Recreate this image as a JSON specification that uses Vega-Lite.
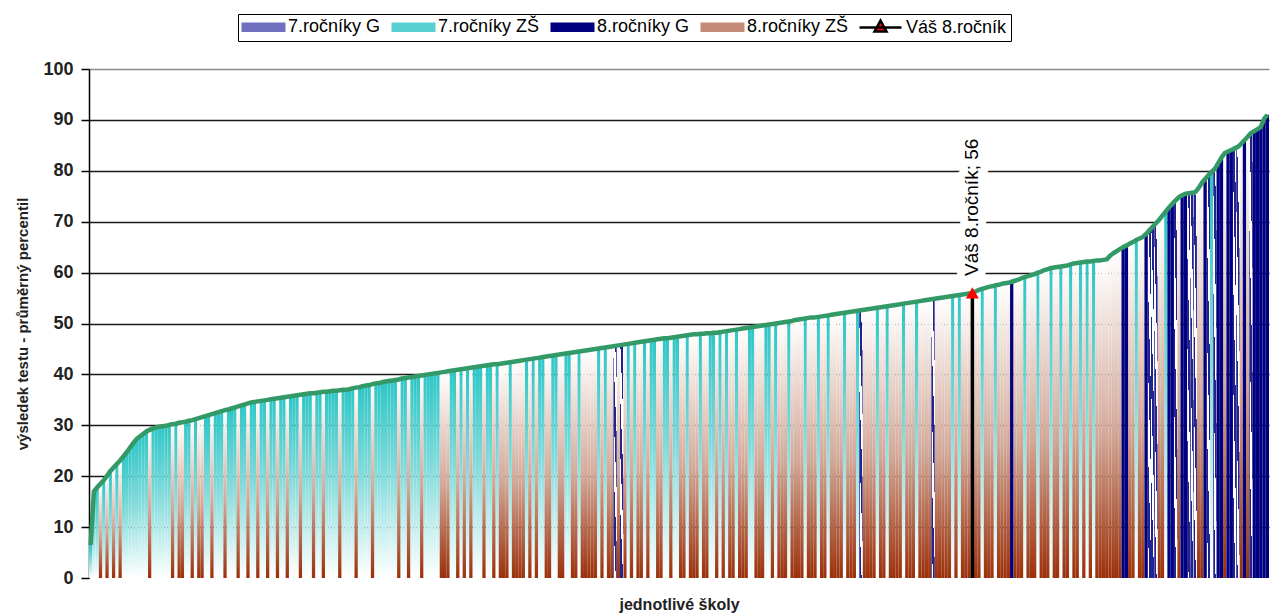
{
"$schema": "https://vega.github.io/schema/vega-lite/v6.json",
"width": 1180,
"height": 509,
"autosize": {"type": "none"},
"padding": {"left": 89, "top": 69, "right": 1, "bottom": 36},
"background": "#ffffff",
"datasets": {"schools": [
{"s":1,"v":6.5,"k":"Z7"},{"s":2,"v":17.0,"k":"Z7"},{"s":3,"v":17.8,"k":"Z7"},{"s":4,"v":18.5,"k":"Z8"},{"s":5,"v":19.2,"k":"Z7"},{"s":6,"v":20.1,"k":"Z8"},{"s":7,"v":21.0,"k":"Z7"},{"s":8,"v":21.7,"k":"Z8"},{"s":9,"v":22.4,"k":"Z7"},{"s":10,"v":23.1,"k":"Z8"},
{"s":11,"v":23.9,"k":"Z7"},{"s":12,"v":24.7,"k":"Z7"},{"s":13,"v":25.6,"k":"Z7"},{"s":14,"v":26.5,"k":"Z7"},{"s":15,"v":27.3,"k":"Z7"},{"s":16,"v":27.8,"k":"Z7"},{"s":17,"v":28.3,"k":"Z7"},{"s":18,"v":28.8,"k":"Z7"},{"s":19,"v":29.1,"k":"Z8"},{"s":20,"v":29.4,"k":"Z7"},
{"s":21,"v":29.6,"k":"Z7"},{"s":22,"v":29.7,"k":"Z7"},{"s":23,"v":29.8,"k":"Z7"},{"s":24,"v":29.9,"k":"Z7"},{"s":25,"v":30.1,"k":"Z7"},{"s":26,"v":30.2,"k":"Z8"},{"s":27,"v":30.3,"k":"Z7"},{"s":28,"v":30.5,"k":"Z8"},{"s":29,"v":30.6,"k":"Z8"},{"s":30,"v":30.7,"k":"Z7"},
{"s":31,"v":30.9,"k":"Z7"},{"s":32,"v":31.0,"k":"Z8"},{"s":33,"v":31.2,"k":"Z7"},{"s":34,"v":31.4,"k":"Z8"},{"s":35,"v":31.6,"k":"Z8"},{"s":36,"v":31.8,"k":"Z7"},{"s":37,"v":32.0,"k":"Z7"},{"s":38,"v":32.2,"k":"Z8"},{"s":39,"v":32.4,"k":"Z7"},{"s":40,"v":32.6,"k":"Z7"},
{"s":41,"v":32.8,"k":"Z7"},{"s":42,"v":33.0,"k":"Z8"},{"s":43,"v":33.1,"k":"Z7"},{"s":44,"v":33.3,"k":"Z7"},{"s":45,"v":33.5,"k":"Z7"},{"s":46,"v":33.7,"k":"Z8"},{"s":47,"v":33.9,"k":"Z7"},{"s":48,"v":34.1,"k":"Z7"},{"s":49,"v":34.3,"k":"Z8"},{"s":50,"v":34.5,"k":"Z7"},
{"s":51,"v":34.6,"k":"Z7"},{"s":52,"v":34.7,"k":"Z8"},{"s":53,"v":34.8,"k":"Z7"},{"s":54,"v":34.9,"k":"Z7"},{"s":55,"v":35.0,"k":"Z8"},{"s":56,"v":35.1,"k":"Z7"},{"s":57,"v":35.2,"k":"Z7"},{"s":58,"v":35.3,"k":"Z8"},{"s":59,"v":35.4,"k":"Z7"},{"s":60,"v":35.5,"k":"Z7"},
{"s":61,"v":35.6,"k":"Z8"},{"s":62,"v":35.7,"k":"Z7"},{"s":63,"v":35.8,"k":"Z7"},{"s":64,"v":35.9,"k":"Z7"},{"s":65,"v":36.0,"k":"Z8"},{"s":66,"v":36.1,"k":"Z7"},{"s":67,"v":36.2,"k":"Z7"},{"s":68,"v":36.3,"k":"Z7"},{"s":69,"v":36.3,"k":"Z8"},{"s":70,"v":36.4,"k":"Z7"},
{"s":71,"v":36.5,"k":"Z7"},{"s":72,"v":36.6,"k":"Z8"},{"s":73,"v":36.6,"k":"Z7"},{"s":74,"v":36.7,"k":"Z7"},{"s":75,"v":36.8,"k":"Z7"},{"s":76,"v":36.8,"k":"Z7"},{"s":77,"v":36.9,"k":"Z8"},{"s":78,"v":37.0,"k":"Z7"},{"s":79,"v":37.0,"k":"Z7"},{"s":80,"v":37.1,"k":"Z7"},
{"s":81,"v":37.3,"k":"Z7"},{"s":82,"v":37.4,"k":"Z8"},{"s":83,"v":37.5,"k":"Z7"},{"s":84,"v":37.7,"k":"Z7"},{"s":85,"v":37.8,"k":"Z7"},{"s":86,"v":37.9,"k":"Z7"},{"s":87,"v":38.1,"k":"Z8"},{"s":88,"v":38.2,"k":"Z7"},{"s":89,"v":38.3,"k":"Z7"},{"s":90,"v":38.5,"k":"Z7"},
{"s":91,"v":38.6,"k":"Z7"},{"s":92,"v":38.7,"k":"Z7"},{"s":93,"v":38.8,"k":"Z7"},{"s":94,"v":38.9,"k":"Z7"},{"s":95,"v":39.0,"k":"Z8"},{"s":96,"v":39.2,"k":"Z7"},{"s":97,"v":39.3,"k":"Z7"},{"s":98,"v":39.4,"k":"Z8"},{"s":99,"v":39.5,"k":"Z7"},{"s":100,"v":39.6,"k":"Z7"},
{"s":101,"v":39.7,"k":"Z7"},{"s":102,"v":39.8,"k":"Z8"},{"s":103,"v":39.9,"k":"Z7"},{"s":104,"v":40.0,"k":"Z7"},{"s":105,"v":40.1,"k":"Z7"},{"s":106,"v":40.2,"k":"Z7"},{"s":107,"v":40.3,"k":"Z7"},{"s":108,"v":40.4,"k":"Z8"},{"s":109,"v":40.5,"k":"Z8"},{"s":110,"v":40.6,"k":"Z8"},
{"s":111,"v":40.7,"k":"Z7"},{"s":112,"v":40.8,"k":"Z7"},{"s":113,"v":40.9,"k":"Z8"},{"s":114,"v":41.0,"k":"Z7"},{"s":115,"v":41.1,"k":"Z8"},{"s":116,"v":41.2,"k":"Z7"},{"s":117,"v":41.3,"k":"Z8"},{"s":118,"v":41.4,"k":"Z7"},{"s":119,"v":41.5,"k":"Z7"},{"s":120,"v":41.6,"k":"Z7"},
{"s":121,"v":41.7,"k":"Z8"},{"s":122,"v":41.8,"k":"Z7"},{"s":123,"v":41.9,"k":"Z7"},{"s":124,"v":42.0,"k":"Z8"},{"s":125,"v":42.0,"k":"Z7"},{"s":126,"v":42.1,"k":"Z8"},{"s":127,"v":42.2,"k":"Z8"},{"s":128,"v":42.3,"k":"Z8"},{"s":129,"v":42.4,"k":"Z7"},{"s":130,"v":42.5,"k":"Z8"},
{"s":131,"v":42.6,"k":"Z8"},{"s":132,"v":42.7,"k":"Z8"},{"s":133,"v":42.8,"k":"Z8"},{"s":134,"v":42.9,"k":"Z7"},{"s":135,"v":43.0,"k":"Z8"},{"s":136,"v":43.1,"k":"Z7"},{"s":137,"v":43.2,"k":"Z8"},{"s":138,"v":43.3,"k":"Z7"},{"s":139,"v":43.4,"k":"Z7"},{"s":140,"v":43.5,"k":"Z8"},
{"s":141,"v":43.6,"k":"Z8"},{"s":142,"v":43.7,"k":"Z7"},{"s":143,"v":43.8,"k":"Z7"},{"s":144,"v":43.9,"k":"Z8"},{"s":145,"v":44.0,"k":"Z8"},{"s":146,"v":44.1,"k":"Z7"},{"s":147,"v":44.2,"k":"Z7"},{"s":148,"v":44.3,"k":"Z8"},{"s":149,"v":44.4,"k":"Z8"},{"s":150,"v":44.5,"k":"Z7"},
{"s":151,"v":44.6,"k":"Z8"},{"s":152,"v":44.7,"k":"Z8"},{"s":153,"v":44.8,"k":"Z8"},{"s":154,"v":44.9,"k":"Z8"},{"s":155,"v":45.0,"k":"Z8"},{"s":156,"v":45.1,"k":"Z7"},{"s":157,"v":45.2,"k":"Z8"},{"s":158,"v":45.3,"k":"Z7"},{"s":159,"v":45.4,"k":"Z8"},{"s":160,"v":45.5,"k":"Z8"},
{"s":161,"v":45.6,"k":"G7"},{"s":162,"v":45.7,"k":"Z8"},{"s":163,"v":45.8,"k":"G7"},{"s":164,"v":45.9,"k":"Z8"},{"s":165,"v":46.0,"k":"Z7"},{"s":166,"v":46.1,"k":"Z8"},{"s":167,"v":46.2,"k":"Z7"},{"s":168,"v":46.3,"k":"Z8"},{"s":169,"v":46.4,"k":"Z8"},{"s":170,"v":46.5,"k":"Z7"},
{"s":171,"v":46.6,"k":"Z8"},{"s":172,"v":46.7,"k":"Z7"},{"s":173,"v":46.8,"k":"Z7"},{"s":174,"v":46.9,"k":"Z8"},{"s":175,"v":47.0,"k":"Z8"},{"s":176,"v":47.1,"k":"Z7"},{"s":177,"v":47.1,"k":"Z7"},{"s":178,"v":47.2,"k":"Z8"},{"s":179,"v":47.3,"k":"Z7"},{"s":180,"v":47.4,"k":"Z7"},
{"s":181,"v":47.5,"k":"Z8"},{"s":182,"v":47.6,"k":"Z8"},{"s":183,"v":47.7,"k":"Z7"},{"s":184,"v":47.8,"k":"Z8"},{"s":185,"v":47.9,"k":"Z8"},{"s":186,"v":47.9,"k":"Z8"},{"s":187,"v":48.0,"k":"Z7"},{"s":188,"v":48.0,"k":"Z8"},{"s":189,"v":48.1,"k":"Z8"},{"s":190,"v":48.1,"k":"Z7"},
{"s":191,"v":48.2,"k":"Z7"},{"s":192,"v":48.2,"k":"Z8"},{"s":193,"v":48.3,"k":"Z7"},{"s":194,"v":48.4,"k":"Z8"},{"s":195,"v":48.5,"k":"Z7"},{"s":196,"v":48.6,"k":"Z8"},{"s":197,"v":48.7,"k":"Z8"},{"s":198,"v":48.8,"k":"Z7"},{"s":199,"v":48.9,"k":"Z8"},{"s":200,"v":49.0,"k":"Z8"},
{"s":201,"v":49.1,"k":"Z8"},{"s":202,"v":49.2,"k":"Z7"},{"s":203,"v":49.3,"k":"Z7"},{"s":204,"v":49.4,"k":"Z8"},{"s":205,"v":49.5,"k":"Z8"},{"s":206,"v":49.6,"k":"Z8"},{"s":207,"v":49.7,"k":"Z7"},{"s":208,"v":49.8,"k":"Z7"},{"s":209,"v":49.9,"k":"Z8"},{"s":210,"v":50.0,"k":"Z7"},
{"s":211,"v":50.1,"k":"Z8"},{"s":212,"v":50.2,"k":"Z8"},{"s":213,"v":50.3,"k":"Z8"},{"s":214,"v":50.4,"k":"Z7"},{"s":215,"v":50.5,"k":"Z8"},{"s":216,"v":50.7,"k":"Z8"},{"s":217,"v":50.8,"k":"Z8"},{"s":218,"v":50.9,"k":"Z8"},{"s":219,"v":51.0,"k":"Z7"},{"s":220,"v":51.1,"k":"Z8"},
{"s":221,"v":51.2,"k":"Z8"},{"s":222,"v":51.2,"k":"Z8"},{"s":223,"v":51.3,"k":"Z7"},{"s":224,"v":51.4,"k":"Z8"},{"s":225,"v":51.5,"k":"Z8"},{"s":226,"v":51.6,"k":"Z7"},{"s":227,"v":51.7,"k":"Z8"},{"s":228,"v":51.8,"k":"Z8"},{"s":229,"v":51.9,"k":"Z8"},{"s":230,"v":52.0,"k":"Z8"},
{"s":231,"v":52.1,"k":"Z7"},{"s":232,"v":52.2,"k":"Z8"},{"s":233,"v":52.3,"k":"Z8"},{"s":234,"v":52.4,"k":"Z8"},{"s":235,"v":52.5,"k":"Z7"},{"s":236,"v":52.6,"k":"G7"},{"s":237,"v":52.7,"k":"Z8"},{"s":238,"v":52.8,"k":"Z8"},{"s":239,"v":52.9,"k":"Z8"},{"s":240,"v":53.0,"k":"Z8"},
{"s":241,"v":53.1,"k":"Z7"},{"s":242,"v":53.2,"k":"Z8"},{"s":243,"v":53.3,"k":"Z8"},{"s":244,"v":53.4,"k":"Z7"},{"s":245,"v":53.5,"k":"Z8"},{"s":246,"v":53.6,"k":"Z8"},{"s":247,"v":53.7,"k":"Z8"},{"s":248,"v":53.8,"k":"Z8"},{"s":249,"v":53.9,"k":"Z7"},{"s":250,"v":54.0,"k":"Z8"},
{"s":251,"v":54.1,"k":"Z8"},{"s":252,"v":54.2,"k":"Z8"},{"s":253,"v":54.3,"k":"Z7"},{"s":254,"v":54.4,"k":"Z8"},{"s":255,"v":54.5,"k":"Z8"},{"s":256,"v":54.6,"k":"Z8"},{"s":257,"v":54.7,"k":"Z8"},{"s":258,"v":54.8,"k":"G7"},{"s":259,"v":54.9,"k":"Z8"},{"s":260,"v":55.0,"k":"Z8"},
{"s":261,"v":55.1,"k":"Z8"},{"s":262,"v":55.2,"k":"Z8"},{"s":263,"v":55.3,"k":"Z8"},{"s":264,"v":55.4,"k":"Z7"},{"s":265,"v":55.5,"k":"Z8"},{"s":266,"v":55.6,"k":"Z7"},{"s":267,"v":55.7,"k":"Z8"},{"s":268,"v":55.8,"k":"Z8"},{"s":269,"v":55.9,"k":"Z8"},{"s":270,"v":56,"k":"V","t":"Váš 8.ročník; 56"},
{"s":271,"v":56.3,"k":"Z8"},{"s":272,"v":56.6,"k":"Z8"},{"s":273,"v":56.8,"k":"Z7"},{"s":274,"v":57.0,"k":"Z8"},{"s":275,"v":57.2,"k":"Z8"},{"s":276,"v":57.3,"k":"Z8"},{"s":277,"v":57.5,"k":"Z7"},{"s":278,"v":57.6,"k":"Z8"},{"s":279,"v":57.8,"k":"Z8"},{"s":280,"v":57.9,"k":"Z8"},
{"s":281,"v":58.0,"k":"Z8"},{"s":282,"v":58.2,"k":"G8"},{"s":283,"v":58.4,"k":"Z8"},{"s":284,"v":58.6,"k":"Z8"},{"s":285,"v":58.9,"k":"Z8"},{"s":286,"v":59.1,"k":"Z7"},{"s":287,"v":59.3,"k":"Z8"},{"s":288,"v":59.5,"k":"Z8"},{"s":289,"v":59.7,"k":"Z8"},{"s":290,"v":60.0,"k":"Z7"},
{"s":291,"v":60.2,"k":"Z8"},{"s":292,"v":60.5,"k":"Z8"},{"s":293,"v":60.7,"k":"Z8"},{"s":294,"v":60.9,"k":"Z7"},{"s":295,"v":61.0,"k":"Z8"},{"s":296,"v":61.1,"k":"Z8"},{"s":297,"v":61.2,"k":"Z7"},{"s":298,"v":61.3,"k":"Z8"},{"s":299,"v":61.4,"k":"Z8"},{"s":300,"v":61.6,"k":"Z7"},
{"s":301,"v":61.8,"k":"Z8"},{"s":302,"v":61.9,"k":"Z8"},{"s":303,"v":62.0,"k":"Z7"},{"s":304,"v":62.1,"k":"Z8"},{"s":305,"v":62.2,"k":"Z7"},{"s":306,"v":62.2,"k":"Z8"},{"s":307,"v":62.3,"k":"Z7"},{"s":308,"v":62.4,"k":"Z8"},{"s":309,"v":62.4,"k":"Z8"},{"s":310,"v":62.5,"k":"Z8"},
{"s":311,"v":62.6,"k":"Z8"},{"s":312,"v":63.3,"k":"Z8"},{"s":313,"v":63.8,"k":"Z8"},{"s":314,"v":64.2,"k":"Z8"},{"s":315,"v":64.6,"k":"Z8"},{"s":316,"v":65.0,"k":"G8"},{"s":317,"v":65.3,"k":"G8"},{"s":318,"v":65.7,"k":"Z8"},{"s":319,"v":66.0,"k":"Z8"},{"s":320,"v":66.4,"k":"Z7"},
{"s":321,"v":66.7,"k":"Z8"},{"s":322,"v":67.0,"k":"Z8"},{"s":323,"v":67.6,"k":"G8"},{"s":324,"v":68.3,"k":"G7"},{"s":325,"v":69.0,"k":"G7"},{"s":326,"v":69.7,"k":"G7"},{"s":327,"v":70.4,"k":"Z8"},{"s":328,"v":71.2,"k":"Z8"},{"s":329,"v":72.0,"k":"Z7"},{"s":330,"v":72.8,"k":"G8"},
{"s":331,"v":73.5,"k":"G8"},{"s":332,"v":74.2,"k":"G7"},{"s":333,"v":74.8,"k":"Z8"},{"s":334,"v":75.2,"k":"G8"},{"s":335,"v":75.5,"k":"G8"},{"s":336,"v":75.6,"k":"G7"},{"s":337,"v":75.7,"k":"G7"},{"s":338,"v":75.8,"k":"G7"},{"s":339,"v":76.6,"k":"Z8"},{"s":340,"v":77.6,"k":"Z8"},
{"s":341,"v":78.4,"k":"G8"},{"s":342,"v":79.1,"k":"G7"},{"s":343,"v":79.8,"k":"Z7"},{"s":344,"v":80.4,"k":"G7"},{"s":345,"v":81.5,"k":"G8"},{"s":346,"v":82.6,"k":"G8"},{"s":347,"v":83.5,"k":"Z8"},{"s":348,"v":83.8,"k":"G8"},{"s":349,"v":84.1,"k":"G8"},{"s":350,"v":84.4,"k":"G7"},
{"s":351,"v":84.7,"k":"G7"},{"s":352,"v":85.3,"k":"Z8"},{"s":353,"v":86.0,"k":"G8"},{"s":354,"v":86.7,"k":"Z8"},{"s":355,"v":87.4,"k":"G7"},{"s":356,"v":87.8,"k":"G8"},{"s":357,"v":88.2,"k":"G8"},{"s":358,"v":88.6,"k":"G8"},{"s":359,"v":90.2,"k":"G8"},{"s":360,"v":91.0,"k":"G8"}
]},
"data": {"name": "schools"},
"encoding": {
  "x": {"field": "s", "type": "ordinal", "sort": "ascending",
        "scale": {"paddingInner": 0, "paddingOuter": 0},
        "axis": {"title": "jednotlivé školy", "labels": false, "ticks": false, "domain": false, "grid": false,
                 "titleFont": "Liberation Sans", "titleFontSize": 16, "titleFontWeight": "bold", "titleColor": "#222222", "titlePadding": 18}},
  "y": {"field": "v", "type": "quantitative",
        "scale": {"domain": [0, 100], "nice": false, "zero": true},
        "axis": {"title": "výsledek testu - průměrný percentil", "values": [0,10,20,30,40,50,60,70,80,90,100],
                 "titleFont": "Liberation Sans", "titleFontSize": 15, "titleFontWeight": "bold", "titleColor": "#222222", "titlePadding": 12,
                 "labelFont": "Liberation Sans", "labelFontSize": 18, "labelFontWeight": "bold", "labelColor": "#222222", "labelPadding": 8,
                 "tickSize": 8, "tickColor": "#000000", "tickWidth": 1.5, "domainColor": "#000000", "domainWidth": 1.5,
                 "gridColor": {"condition": [{"test": "datum.value == 0", "value": "transparent"}, {"test": "datum.value == 100", "value": "#8a8a8a"}], "value": "#1a1a1a"},
                 "gridWidth": 1.5}}
},
"layer": [
  {
    "transform": [{"filter": "datum.k == 'Z7'"}],
    "mark": {"type": "bar", "fill": {"gradient":"linear","x1":0,"y1":0,"x2":0,"y2":1,"stops":[{"offset":0,"color":"#2ec6c6"},{"offset":0.45,"color":"#80dada"},{"offset":1,"color":"#ffffff"}]}},
    "encoding": {}
  },
  {
    "transform": [{"filter": "datum.k == 'Z8'"}],
    "mark": {"type": "bar", "fill": {"gradient":"linear","x1":0,"y1":0,"x2":0,"y2":1,"stops":[{"offset":0,"color":"#ffffff"},{"offset":0.55,"color":"#d2a898"},{"offset":1,"color":"#9b300a"}]}},
    "encoding": {}
  },
  {
    "transform": [{"filter": "datum.k == 'G7'"}],
    "mark": {"type": "bar", "fill": {"gradient":"linear","x1":0,"y1":0.2,"x2":1,"y2":0,"stops":[
              {"offset":0,"color":"#23238f"},{"offset":0.045,"color":"#23238f"},{"offset":0.045,"color":"#ffffff"},{"offset":0.091,"color":"#ffffff"},
              {"offset":0.091,"color":"#23238f"},{"offset":0.136,"color":"#23238f"},{"offset":0.136,"color":"#ffffff"},{"offset":0.182,"color":"#ffffff"},
              {"offset":0.182,"color":"#23238f"},{"offset":0.227,"color":"#23238f"},{"offset":0.227,"color":"#ffffff"},{"offset":0.273,"color":"#ffffff"},
              {"offset":0.273,"color":"#23238f"},{"offset":0.318,"color":"#23238f"},{"offset":0.318,"color":"#ffffff"},{"offset":0.364,"color":"#ffffff"},
              {"offset":0.364,"color":"#23238f"},{"offset":0.409,"color":"#23238f"},{"offset":0.409,"color":"#ffffff"},{"offset":0.455,"color":"#ffffff"},
              {"offset":0.455,"color":"#23238f"},{"offset":0.5,"color":"#23238f"},{"offset":0.5,"color":"#ffffff"},{"offset":0.545,"color":"#ffffff"},
              {"offset":0.545,"color":"#23238f"},{"offset":0.591,"color":"#23238f"},{"offset":0.591,"color":"#ffffff"},{"offset":0.636,"color":"#ffffff"},
              {"offset":0.636,"color":"#23238f"},{"offset":0.682,"color":"#23238f"},{"offset":0.682,"color":"#ffffff"},{"offset":0.727,"color":"#ffffff"},
              {"offset":0.727,"color":"#23238f"},{"offset":0.773,"color":"#23238f"},{"offset":0.773,"color":"#ffffff"},{"offset":0.818,"color":"#ffffff"},
              {"offset":0.818,"color":"#23238f"},{"offset":0.864,"color":"#23238f"},{"offset":0.864,"color":"#ffffff"},{"offset":0.909,"color":"#ffffff"},
              {"offset":0.909,"color":"#23238f"},{"offset":0.955,"color":"#23238f"},{"offset":0.955,"color":"#ffffff"},{"offset":1,"color":"#ffffff"}]}},
    "encoding": {}
  },
  {
    "transform": [{"filter": "datum.k == 'G8'"}],
    "mark": {"type": "bar", "fill": "#000080"},
    "encoding": {}
  },
  {
    "transform": [{"filter": "datum.k == 'none'"}],
    "mark": {"type": "point", "filled": true, "opacity": 1},
    "encoding": {
      "fill": {"field": "k", "type": "nominal",
        "scale": {"domain": ["G7", "Z7", "G8", "Z8", "V"], "range": ["#7070c0", "#58d0d0", "#000080", "#c48c78", "#ff0000"]},
        "legend": {"title": null,
          "labelExpr": "datum.label == 'G7' ? '7.ročníky G' : datum.label == 'Z7' ? '7.ročníky ZŠ' : datum.label == 'G8' ? '8.ročníky G' : datum.label == 'Z8' ? '8.ročníky ZŠ' : 'Váš 8.ročník'"}},
      "stroke": {"field": "k", "type": "nominal",
        "scale": {"domain": ["G7", "Z7", "G8", "Z8", "V"], "range": ["transparent", "transparent", "transparent", "transparent", "#000000"]},
        "legend": {"title": null,
          "labelExpr": "datum.label == 'G7' ? '7.ročníky G' : datum.label == 'Z7' ? '7.ročníky ZŠ' : datum.label == 'G8' ? '8.ročníky G' : datum.label == 'Z8' ? '8.ročníky ZŠ' : 'Váš 8.ročník'"}},
      "shape": {"field": "k", "type": "nominal",
        "scale": {"domain": ["G7", "Z7", "G8", "Z8", "V"],
          "range": ["M-1.9,-0.95H6.9V0.95H-1.9Z", "M-1.9,-0.95H6.9V0.95H-1.9Z", "M-1.9,-0.95H6.9V0.95H-1.9Z", "M-1.9,-0.95H6.9V0.95H-1.9Z", "M-1.9,0H6.5 M1.1,0.8L2.3,-1.4L3.5,0.8Z"]},
        "legend": {"title": null,
          "labelExpr": "datum.label == 'G7' ? '7.ročníky G' : datum.label == 'Z7' ? '7.ročníky ZŠ' : datum.label == 'G8' ? '8.ročníky G' : datum.label == 'Z8' ? '8.ročníky ZŠ' : 'Váš 8.ročník'"}}
    }
  },
  {
    "mark": {"type": "line", "color": "#339966", "strokeWidth": 4.5, "strokeJoin": "round"},
    "encoding": {}
  },
  {
    "transform": [{"filter": "datum.k == 'V'"}],
    "mark": {"type": "rule", "color": "#000000", "strokeWidth": 3.5},
    "encoding": {"y2": {"datum": 0}}
  },
  {
    "transform": [{"filter": "datum.k == 'V'"}],
    "mark": {"type": "text", "angle": 270, "align": "left", "baseline": "middle", "font": "Liberation Sans", "fontSize": 19, "yOffset": -17, "fill": "#ffffff", "stroke": "#ffffff", "strokeWidth": 16, "strokeJoin": "round"},
    "encoding": {"text": {"field": "t"}}
  },
  {
    "transform": [{"filter": "datum.k == 'V'"}],
    "mark": {"type": "text", "angle": 270, "align": "left", "baseline": "middle", "font": "Liberation Sans", "fontSize": 19, "yOffset": -17, "fill": "#000000"},
    "encoding": {"text": {"field": "t"}}
  },
  {
    "transform": [{"filter": "datum.k == 'V'"}],
    "mark": {"type": "point", "shape": "triangle-up", "filled": true, "fill": "#ff0000", "size": 170, "strokeWidth": 0, "opacity": 1},
    "encoding": {}
  }
],
"config": {
  "view": {"stroke": null},
  "legend": {"orient": "none", "legendX": 149, "legendY": -55, "direction": "horizontal",
             "strokeColor": "#000000", "strokeWidth": 1, "fillColor": "#ffffff", "padding": 4,
             "labelFont": "Liberation Sans", "labelFontSize": 18, "labelColor": "#000000", "labelOffset": 28,
             "columnPadding": 5, "symbolSize": 100, "symbolStrokeWidth": 2.5, "symbolOpacity": 1}
}
}
